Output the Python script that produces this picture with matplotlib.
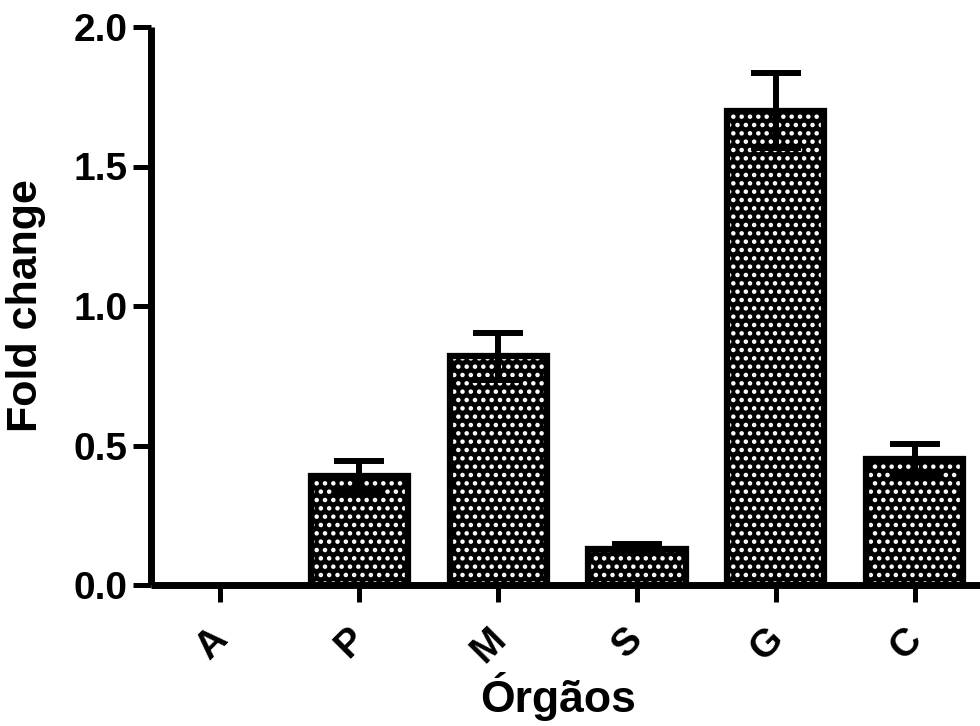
import numpy as np
import matplotlib
matplotlib.use("Agg")
import matplotlib.pyplot as plt
from matplotlib.transforms import ScaledTranslation

categories = ["A", "P", "M", "S", "G", "C"]
fold_change = [0.0, 0.39, 0.82, 0.13, 1.70, 0.45]
sem = [0.0, 0.055, 0.085, 0.017, 0.135, 0.057]
y_ticks = [0.0, 0.5, 1.0, 1.5, 2.0]
y_tick_labels = ["0.0", "0.5", "1.0", "1.5", "2.0"]
x_label = "Órgãos"
y_label = "Fold change"

plt.rcParams['font.family'] = ['Liberation Sans', 'DejaVu Sans']
plt.rcParams['font.weight'] = 'bold'
plt.rcParams['hatch.linewidth'] = 2.0

fig = plt.figure(figsize=(9.8, 7.26), dpi=100)
ax = fig.add_axes([151/980, 1 - 585/726, (980 - 151)/980, (585 - 27)/726])

x = np.arange(len(categories))
vals = np.array(fold_change)
errs = np.array(sem)
nz = vals > 0

# patterned fill (white dots on black)
ax.bar(x[nz], vals[nz], width=0.7, color='black', edgecolor='white', hatch='..',
       linewidth=0, zorder=2)
# thick black outline
ax.bar(x[nz], vals[nz], width=0.7, fill=False, edgecolor='black', linewidth=4.5,
       zorder=3)

mask = errs > 0
ax.errorbar(x[mask], vals[mask], yerr=errs[mask], fmt='none', ecolor='black',
            elinewidth=4.3, capsize=18, capthick=4.3, zorder=4)

ax.set_xlim(-0.5, 5.47)
ax.set_ylim(0, 2.0)
ax.set_yticks(y_ticks)
ax.set_yticklabels(y_tick_labels)
ax.set_xticks(x)
ax.set_xticklabels(categories, rotation=45, ha='center', va='top')

for s in ['top', 'right']:
    ax.spines[s].set_visible(False)
for s in ['left', 'bottom']:
    ax.spines[s].set_linewidth(5)
    ax.spines[s].set_capstyle('butt')

ax.tick_params(axis='y', length=13, width=3.6, labelsize=28, pad=4)
ax.tick_params(axis='x', length=12, width=3.6, labelsize=28, pad=14)

offset = ScaledTranslation(-9/100, 0, fig.dpi_scale_trans)
for lab in ax.get_xticklabels():
    lab.set_transform(lab.get_transform() + offset)
    lab.set_fontweight('bold')
for lab in ax.get_yticklabels():
    lab.set_fontweight('bold')

ax.set_ylabel(y_label, fontsize=31, fontweight='bold')
ax.yaxis.set_label_coords(-0.127, 0.5)
ax.set_xlabel(x_label, fontsize=32, fontweight='bold')
ax.xaxis.set_label_coords(0.491, -0.156)

fig.savefig("out.png", dpi=100)
